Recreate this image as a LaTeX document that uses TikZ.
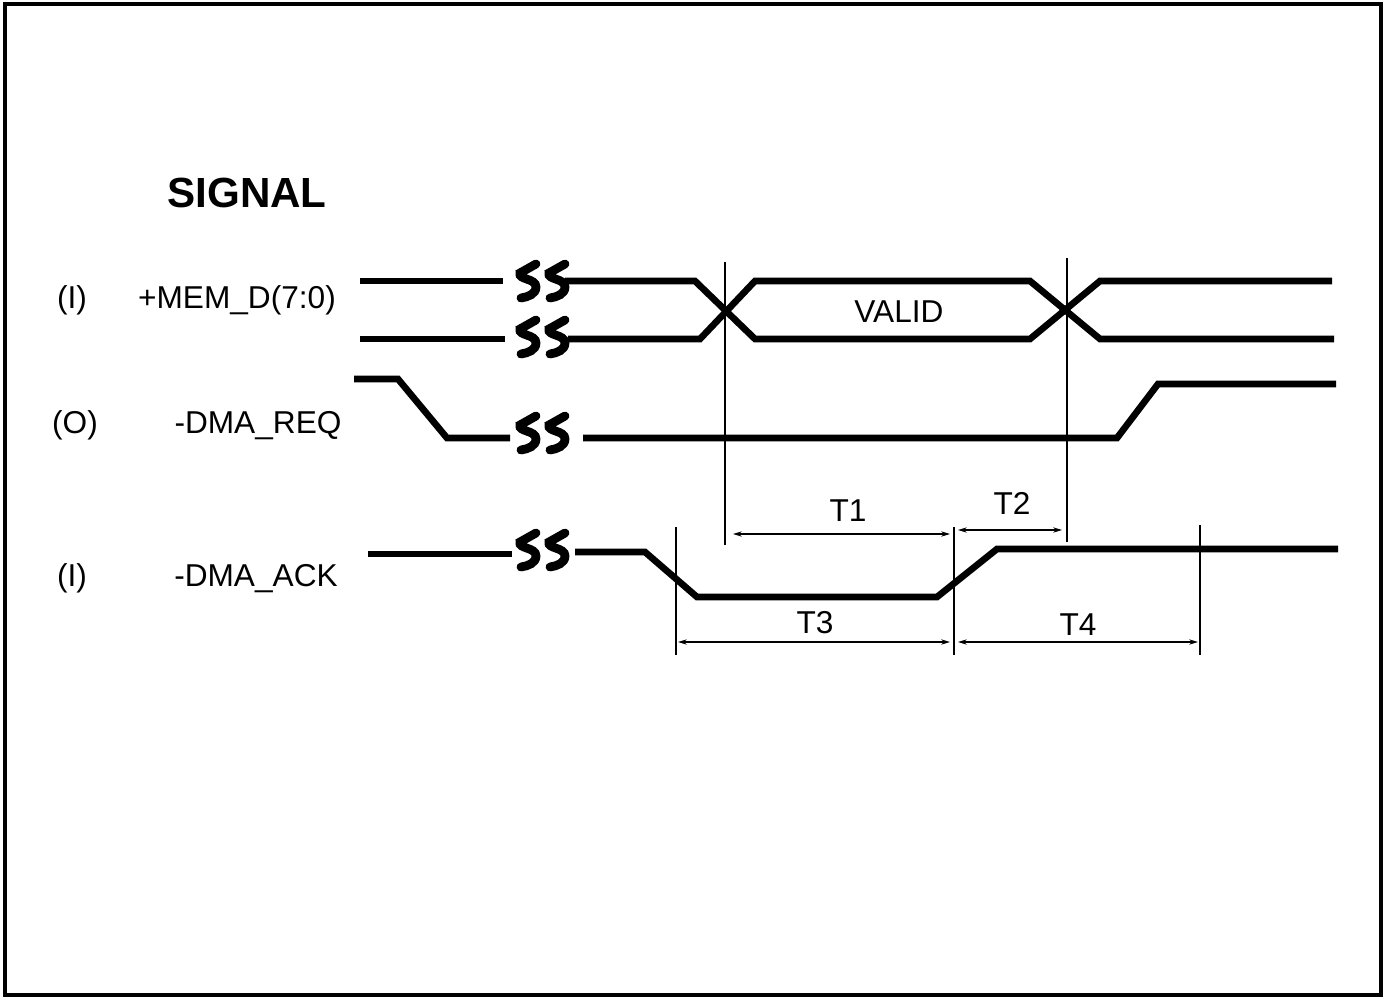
\documentclass[tikz,border=0pt]{standalone}
\usepackage{fontspec}
\setmainfont{Liberation Sans}
\usetikzlibrary{arrows.meta}
\tikzstyle{wave}=[line width=3.8pt]
\tikzstyle{brk}=[line width=5pt,line cap=round]
\tikzstyle{vline}=[line width=0.9pt]
\tikzstyle{dim}=[line width=0.8pt,
                 {Stealth[length=5pt,width=3pt]}-{Stealth[length=5pt,width=3pt]}]
\tikzstyle{lbl}=[font=\fontsize{18}{20}\selectfont,
                 anchor=base,
                 inner sep=0pt]
\tikzstyle{ttl}=[font=\fontsize{24}{28}\selectfont\bfseries,
                 anchor=base,
                 inner sep=0pt]
% one S of a break mark, centred at (x,y) in px
\newcommand{\sglyph}[2]{\draw[brk] (#1+9,#2-17) -- (#1-7,#2-8)
  .. controls (#1-9,#2-1) and (#1+9,#2-3) .. (#1+9,#2+6)
  .. controls (#1+9,#2+13) and (#1+1,#2+16) .. (#1-6,#2+17);}
\newcommand{\sbreak}[2]{\sglyph{#1}{#2}\sglyph{#1+29}{#2}}

\begin{document}
\begin{tikzpicture}[x=0.02cm,y=-0.02cm]
\useasboundingbox (0,0) rectangle (1386,997);
\draw[line width=2pt] (5,4) rectangle (1381,995);

\node[ttl] (sig)  at (247,207) {SIGNAL};

\node[lbl] (memi) at (72,308)  {(I)};
\node[lbl] (memd) at (237,308) {+MEM\_D(7:0)};
\node[lbl] (reqo) at (75,433)  {(O)};
\node[lbl] (req)  at (258,433) {-DMA\_REQ};
\node[lbl] (acki) at (72,586)  {(I)};
\node[lbl] (ack)  at (256,586) {-DMA\_ACK};

% +MEM_D(7:0)
\draw[wave] (360,281) -- (503,281);
\draw[wave] (565,281) -- (695,281) -- (755,339) -- (1030,339)
            -- (1100,281) -- (1332,281);
\draw[wave] (360,339) -- (505,339);
\draw[wave] (568,339) -- (700,339) -- (755,281) -- (1030,281)
            -- (1100,339) -- (1334,339);
\sbreak{527}{281}
\sbreak{527}{337}
\node[lbl] (valid) at (899,322) {VALID};

% -DMA_REQ
\draw[wave] (354,379) -- (398,379) -- (447,438) -- (510,438);
\draw[wave] (583,438) -- (1117,438) -- (1158,384) -- (1336,384);
\sbreak{527}{433}

% -DMA_ACK
\draw[wave] (368,554) -- (512,554);
\draw[wave] (575,552) -- (645,552) -- (697,597) -- (937,597)
            -- (997,549) -- (1338,549);
\sbreak{527}{550}

% markers
\coordinate (m1a) at (725,262);  \coordinate (m1b) at (725,545);
\coordinate (m2a) at (1067,258); \coordinate (m2b) at (1067,542);
\coordinate (m3a) at (676,527);  \coordinate (m3b) at (676,655);
\coordinate (m4a) at (954,527);  \coordinate (m4b) at (954,655);
\coordinate (m5a) at (1200,525); \coordinate (m5b) at (1200,655);
\draw[vline] (m1a) -- (m1b);
\draw[vline] (m2a) -- (m2b);
\draw[vline] (m3a) -- (m3b);
\draw[vline] (m4a) -- (m4b);
\draw[vline] (m5a) -- (m5b);

% timings
\coordinate (t1a) at (733,534);  \coordinate (t1b) at (950,534);
\coordinate (t2a) at (958,530);  \coordinate (t2b) at (1062,530);
\coordinate (t3a) at (678,642);  \coordinate (t3b) at (950,642);
\coordinate (t4a) at (958,642);  \coordinate (t4b) at (1198,642);
\draw[dim] (t1a) -- (t1b);
\draw[dim] (t2a) -- (t2b);
\draw[dim] (t3a) -- (t3b);
\draw[dim] (t4a) -- (t4b);
\node[lbl] (t1) at (848,521)  {T1};
\node[lbl] (t2) at (1012,514) {T2};
\node[lbl] (t3) at (815,633)  {T3};
\node[lbl] (t4) at (1078,635) {T4};
\end{tikzpicture}
\end{document}
